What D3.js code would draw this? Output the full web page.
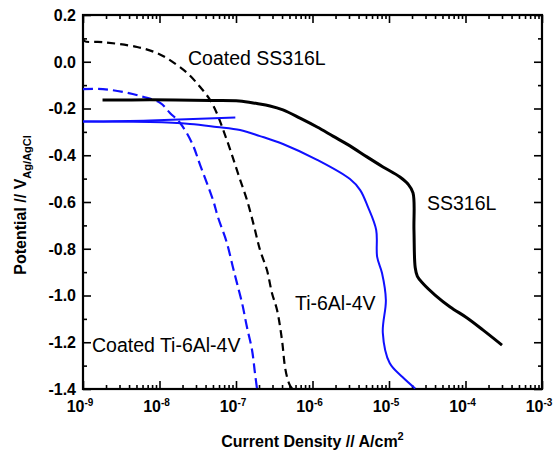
<!DOCTYPE html>
<html><head><meta charset="utf-8">
<script src="https://cdn.jsdelivr.net/npm/d3@7"></script>
<style>
html,body{margin:0;padding:0;background:#fff;}
svg{display:block;font-family:"Liberation Sans",Arial,sans-serif;}
</style></head>
<body><svg id="c" width="556" height="452"></svg>
<script>
// ---- data: [current density A/cm^2, potential V] ----
const ss316l = [[1.8e-9,-0.164],[7.5e-9,-0.163],[4.6e-8,-0.166],[1.1e-7,-0.168],[1.88e-7,-0.179],[2.78e-7,-0.189],[4.11e-7,-0.206],[6.87e-7,-0.241],[1.15e-6,-0.279],[1.85e-6,-0.318],[3.09e-6,-0.360],[5.15e-6,-0.407],[8.35e-6,-0.450],[1.39e-5,-0.493],[1.77e-5,-0.523],[2.06e-5,-0.561],[2.12e-5,-0.72],[2.2e-5,-0.88],[2.35e-5,-0.918],[2.8e-5,-0.950],[4.0e-5,-0.998],[6.3e-5,-1.049],[1.05e-4,-1.096],[1.7e-4,-1.148],[3.0e-4,-1.212]];
const ti64_a = [[1.0e-9,-0.256],[7.5e-9,-0.251],[9.8e-8,-0.238]];
const ti64_b = [[1.0e-9,-0.256],[7.5e-9,-0.258],[2.5e-8,-0.266],[5.6e-8,-0.279],[1.13e-7,-0.292],[2.06e-7,-0.318],[4.11e-7,-0.352],[1.15e-6,-0.420],[3.09e-6,-0.502],[4.2e-6,-0.549],[5.3e-6,-0.621],[6.8e-6,-0.720],[7.0e-6,-0.835],[8.1e-6,-0.904],[9.1e-6,-1.019],[8.3e-6,-1.160],[1.02e-5,-1.289],[1.5e-5,-1.349],[2.2e-5,-1.398]];
const coatedSS = [[1.0e-9,0.100],[1.05e-9,0.088],[1.82e-9,0.084],[5.1e-9,0.063],[9.3e-9,0.037],[1.37e-8,0.007],[2.3e-8,-0.048],[3.4e-8,-0.108],[4.6e-8,-0.164],[5.6e-8,-0.219],[6.97e-8,-0.301],[8.6e-8,-0.386],[1.09e-7,-0.489],[1.39e-7,-0.591],[1.72e-7,-0.703],[2.06e-7,-0.805],[2.54e-7,-0.891],[2.95e-7,-0.989],[3.44e-7,-1.062],[3.99e-7,-1.190],[4.37e-7,-1.306],[4.76e-7,-1.361],[5.08e-7,-1.385],[5.4e-7,-1.398]];
const coatedTi = [[1.0e-9,-0.117],[1.82e-9,-0.117],[3.3e-9,-0.129],[6.1e-9,-0.150],[1.02e-8,-0.176],[1.37e-8,-0.219],[1.86e-8,-0.262],[2.66e-8,-0.348],[3.4e-8,-0.442],[5.0e-8,-0.591],[5.8e-8,-0.664],[7.6e-8,-0.775],[9.1e-8,-0.878],[1.03e-7,-0.947],[1.2e-7,-1.032],[1.39e-7,-1.135],[1.62e-7,-1.233],[1.77e-7,-1.332],[1.88e-7,-1.398]];

const xMajor = [1e-9,1e-8,1e-7,1e-6,1e-5,1e-4,1e-3];
const xExp = ["-9","-8","-7","-6","-5","-4","-3"];
const yMajor = [0.2,0.0,-0.2,-0.4,-0.6,-0.8,-1.0,-1.2,-1.4];
const yMinor = [0.1,-0.1,-0.3,-0.5,-0.7,-0.9,-1.1,-1.3];

const labels = [
  {t:"Coated SS316L", i:2.36e-8, E:-0.012},
  {t:"SS316L", i:3.14e-5, E:-0.634},
  {t:"Ti-6Al-4V", i:5.9e-7, E:-1.062},
  {t:"Coated Ti-6Al-4V", i:1.31e-9, E:-1.242}
];

// ---- layout ----
const L=83, R=542, T=15, B=389;
const x = d3.scaleLog().domain([1e-9,1e-3]).range([L,R]);
const y = d3.scaleLinear().domain([-1.4,0.2]).range([B,T]);
const svg = d3.select("#c");

const xMinor = [];
for (let e=-9;e<-3;e++) for (let k=2;k<=9;k++) xMinor.push(k*Math.pow(10,e));

function axis(gen, tr, vals, size){
  const g = svg.append("g").attr("transform",tr)
    .call(gen.tickValues(vals).tickSize(size).tickFormat(""));
  g.select(".domain").remove();
  g.selectAll("line").attr("stroke","#000").attr("stroke-width",1.6);
  return g;
}
axis(d3.axisBottom(x), `translate(0,${B})`, xMajor, -8);
axis(d3.axisBottom(x), `translate(0,${B})`, xMinor, -4);
axis(d3.axisTop(x), `translate(0,${T})`, xMajor, -8);
axis(d3.axisTop(x), `translate(0,${T})`, xMinor, -4);
axis(d3.axisLeft(y), `translate(${L},0)`, yMajor, -8);
axis(d3.axisLeft(y), `translate(${L},0)`, yMinor, -4);
axis(d3.axisRight(y), `translate(${R},0)`, yMajor, -8);
axis(d3.axisRight(y), `translate(${R},0)`, yMinor, -4);

svg.append("rect").attr("x",L).attr("y",T).attr("width",R-L).attr("height",B-T)
  .attr("fill","none").attr("stroke","#000").attr("stroke-width",2.2);

// tick labels
svg.append("g").selectAll("text").data(yMajor).join("text")
  .attr("x",L-7).attr("y",d=>y(d)).attr("dy","0.36em")
  .attr("text-anchor","end").attr("font-size",16).attr("font-weight","bold")
  .text(d=>d3.format(".1f")(d).replace("−","-"));

const xt = svg.append("g").selectAll("text").data(xMajor).join("text")
  .attr("x",d=>x(d)-3).attr("y",B+23).attr("text-anchor","middle")
  .attr("font-size",16).attr("font-weight","bold");
xt.append("tspan").text("10");
xt.append("tspan").attr("dy",-6).attr("font-size",10).text((d,i)=>xExp[i]);

// axis titles
const xtitle = svg.append("text").attr("x",(L+R)/2).attr("y",447).attr("text-anchor","middle")
  .attr("font-size",16).attr("font-weight","bold");
xtitle.append("tspan").text("Current Density // A/cm");
xtitle.append("tspan").attr("dy",-7).attr("font-size",11).text("2");

const ytitle = svg.append("text").attr("transform",`translate(26,${(T+B)/2+3}) rotate(-90)`)
  .attr("text-anchor","middle").attr("font-size",16).attr("font-weight","bold");
ytitle.append("tspan").text("Potential // V");
ytitle.append("tspan").attr("dy",5).attr("font-size",11).text("Ag/AgCl");

// curves
const lineC = d3.line().x(d=>x(d[0])).y(d=>y(d[1])).curve(d3.curveCatmullRom.alpha(0.5));
const plot = svg.append("g");
plot.append("path").datum(coatedTi).attr("d",lineC).attr("fill","none")
  .attr("stroke","#1010ff").attr("stroke-width",2.2).attr("stroke-dasharray","10,5");
plot.append("path").datum(coatedSS).attr("d",lineC).attr("fill","none")
  .attr("stroke","#000").attr("stroke-width",2.2).attr("stroke-dasharray","8,5");
plot.append("path").datum(ti64_a).attr("d",lineC).attr("fill","none")
  .attr("stroke","#1010ff").attr("stroke-width",2);
plot.append("path").datum(ti64_b).attr("d",lineC).attr("fill","none")
  .attr("stroke","#1010ff").attr("stroke-width",2);
plot.append("path").datum(ss316l).attr("d",lineC).attr("fill","none")
  .attr("stroke","#000").attr("stroke-width",3);

// curve labels
svg.append("g").selectAll("text").data(labels).join("text")
  .attr("x",d=>x(d.i)).attr("y",d=>y(d.E)).attr("font-size",19.5)
  .text(d=>d.t);
</script></body></html>
